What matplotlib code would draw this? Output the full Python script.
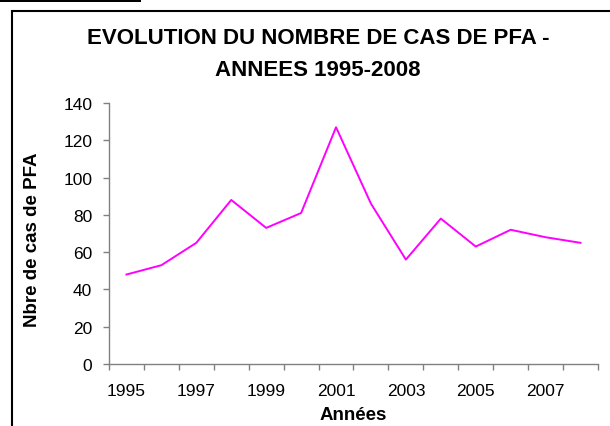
import matplotlib.pyplot as plt
from matplotlib.patches import Rectangle

plt.rcParams['font.family'] = ['Liberation Sans', 'DejaVu Sans']

years = list(range(1995, 2009))
cases = [48, 53, 65, 88, 73, 81, 127, 86, 56, 78, 63, 72, 68, 65]
yticks = [0, 20, 40, 60, 80, 100, 120, 140]

W, H = 610, 427
fig = plt.figure(figsize=(W / 100, H / 100), dpi=100)

# outer frame (runs off the right and bottom edges) and the black strip in the corner
fig.patches.append(Rectangle((12 / W, -0.2), 1.5, 1 - 12 / H + 0.2, transform=fig.transFigure,
                             fill=False, edgecolor='black', linewidth=1.5))
fig.patches.append(Rectangle((0, 1 - 3 / H), 141 / W, 3 / H, transform=fig.transFigure,
                             facecolor='black', edgecolor='none'))

ax = fig.add_axes([109 / W, 1 - 365 / H, (598 - 109) / W, (365 - 104) / H])
x = list(range(len(years)))
ax.plot(x, cases, color='#FF00FF', linewidth=1.4)

ax.set_xlim(-0.5, len(years) - 0.5)
ax.set_ylim(0, 140)
ax.set_yticks(yticks)

# category axis: tick marks between years, labels every other year
ax.set_xticks([i - 0.5 for i in range(len(years) + 1)], minor=True)
ax.set_xticks(x[::2])
ax.set_xticklabels([str(y) for y in years[::2]])
ax.tick_params(axis='x', which='major', length=0, pad=14, labelsize=12.5)
ax.tick_params(axis='x', which='minor', length=4, color='#808080', width=1)
ax.tick_params(axis='y', length=4, color='#808080', width=1, labelsize=12.5, pad=8)

for side in ['top', 'right']:
    ax.spines[side].set_visible(False)
for side in ['left', 'bottom']:
    ax.spines[side].set_color('#808080')
    ax.spines[side].set_linewidth(1)

ax.set_xlabel('Années', fontsize=13.5, fontweight='bold')
ax.xaxis.set_label_coords(0.5, -(416 - 365) / (365 - 104), transform=ax.transAxes)
ax.xaxis.label.set_va('center')
ax.set_ylabel('Nbre de cas de PFA', fontsize=13.5, fontweight='bold')
ax.yaxis.set_label_coords(33 / W, 1 - 240 / H, transform=fig.transFigure)
ax.yaxis.label.set_va('center')

fig.text(318 / W, 1 - 38 / H, 'EVOLUTION DU NOMBRE DE CAS DE PFA -', ha='center', va='center',
         fontsize=16, fontweight='bold')
fig.text(318 / W, 1 - 70 / H, 'ANNEES 1995-2008', ha='center', va='center',
         fontsize=16, fontweight='bold')

fig.savefig('out.png', dpi=100)
